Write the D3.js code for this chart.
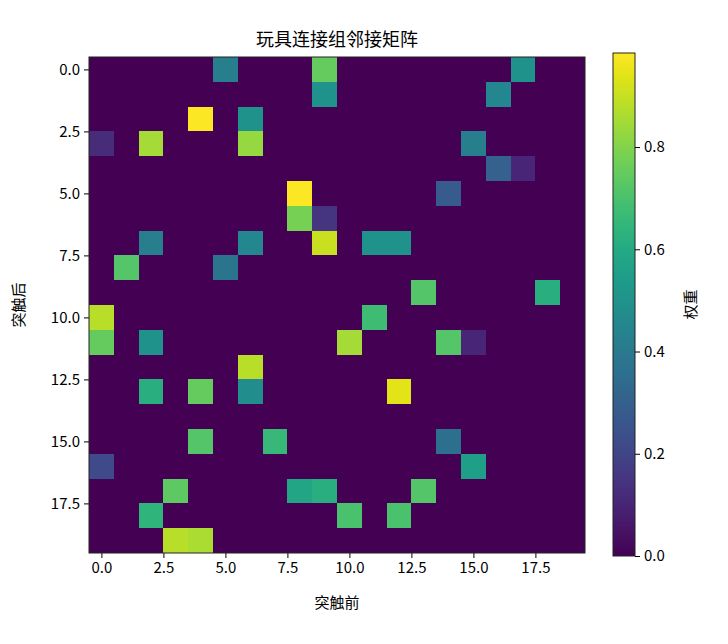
<!DOCTYPE html>
<html>
<head>
<meta charset="utf-8">
<script src="https://cdn.jsdelivr.net/npm/d3@7"></script>
<style>
  body { margin: 0; background: #fff; }
  text { font-family: "Noto Sans CJK SC", "DejaVu Sans", sans-serif; }
</style>
</head>
<body>
<svg id="chart" width="728" height="644"></svg>
<script>
// nonzero cells: [row, col, weight]
const cells = [
  [0,5,0.42],[0,9,0.75],[0,17,0.5],
  [1,9,0.5],[1,16,0.45],
  [2,4,0.98],[2,6,0.5],
  [3,0,0.12],[3,2,0.85],[3,6,0.83],[3,15,0.42],
  [4,16,0.3],[4,17,0.1],
  [5,8,0.98],[5,14,0.28],
  [6,8,0.78],[6,9,0.15],
  [7,2,0.42],[7,6,0.45],[7,9,0.9],[7,11,0.5],[7,12,0.5],
  [8,1,0.72],[8,5,0.38],
  [9,13,0.72],[9,18,0.62],
  [10,0,0.88],[10,11,0.68],
  [11,0,0.75],[11,2,0.5],[11,10,0.85],[11,14,0.72],[11,15,0.1],
  [12,6,0.88],
  [13,2,0.62],[13,4,0.75],[13,6,0.48],[13,12,0.94],
  [15,4,0.72],[15,7,0.66],[15,14,0.36],
  [16,0,0.22],[16,15,0.55],
  [17,3,0.74],[17,8,0.58],[17,9,0.62],[17,13,0.72],
  [18,2,0.64],[18,10,0.7],[18,12,0.7],
  [19,3,0.88],[19,4,0.86]
];
const n = 20;
const axisTicks = [0, 2.5, 5, 7.5, 10, 12.5, 15, 17.5];
const barTicks = [0, 0.2, 0.4, 0.6, 0.8];
const vmax = 0.984;

const matrix = [];
for (let r = 0; r < n; r++) for (let c = 0; c < n; c++) matrix.push({r, c, v: 0});
cells.forEach(([r, c, v]) => { matrix[r * n + c].v = v; });

const svg = d3.select("#chart");
const L = 89, T = 57, S = 496;
const x = d3.scaleLinear().domain([-0.5, n - 0.5]).range([L, L + S]);
const y = d3.scaleLinear().domain([-0.5, n - 0.5]).range([T, T + S]);
const color = d3.scaleSequential(d3.interpolateViridis).domain([0, vmax]);

svg.append("rect").attr("x", L).attr("y", T).attr("width", S).attr("height", S)
  .attr("fill", color(0));
svg.append("g").attr("shape-rendering", "crispEdges")
  .selectAll("rect").data(matrix.filter(d => d.v > 0)).enter().append("rect")
  .attr("x", d => x(d.c - 0.5)).attr("y", d => y(d.r - 0.5))
  .attr("width", x(1) - x(0)).attr("height", y(1) - y(0))
  .attr("fill", d => color(d.v));

const fmt = d3.format(".1f");
svg.append("g").attr("transform", `translate(0,${T + S})`)
  .call(d3.axisBottom(x).tickValues(axisTicks).tickFormat(fmt).tickSize(5).tickPadding(4))
  .call(g => g.selectAll("text").attr("font-size", 15).attr("fill", "#000"));
svg.append("g").attr("transform", `translate(${L},0)`)
  .call(d3.axisLeft(y).tickValues(axisTicks).tickFormat(fmt).tickSize(5).tickPadding(4))
  .call(g => g.selectAll("text").attr("font-size", 15).attr("fill", "#000"));
svg.selectAll(".domain").remove();
svg.append("rect").attr("x", L).attr("y", T).attr("width", S).attr("height", S)
  .attr("fill", "none").attr("stroke", "#222").attr("stroke-width", 1);

svg.append("text").attr("x", L + S / 2).attr("y", 46).attr("text-anchor", "middle")
  .attr("font-size", 18).text("玩具连接组邻接矩阵");
svg.append("text").attr("x", L + S / 2).attr("y", 608).attr("text-anchor", "middle")
  .attr("font-size", 15).text("突触前");
svg.append("text").attr("transform", `translate(24,${T + S / 2}) rotate(-90)`)
  .attr("text-anchor", "middle").attr("font-size", 15).text("突触后");

// colorbar
const cbX = 613, cbW = 22, cbT = 53, cbB = 556;
const cy = d3.scaleLinear().domain([0, vmax]).range([cbB, cbT]);
const grad = svg.append("defs").append("linearGradient").attr("id", "vir")
  .attr("x1", 0).attr("y1", 1).attr("x2", 0).attr("y2", 0);
d3.range(0, 1.001, 0.05).forEach(t => grad.append("stop")
  .attr("offset", t).attr("stop-color", d3.interpolateViridis(t)));
svg.append("rect").attr("x", cbX).attr("y", cbT).attr("width", cbW).attr("height", cbB - cbT)
  .attr("fill", "url(#vir)").attr("stroke", "#222");
svg.append("g").attr("transform", `translate(${cbX + cbW},0)`)
  .call(d3.axisRight(cy).tickValues(barTicks).tickFormat(fmt).tickSize(5).tickPadding(4))
  .call(g => g.select(".domain").remove())
  .call(g => g.selectAll("text").attr("font-size", 15).attr("fill", "#000"));
svg.append("text").attr("transform", `translate(696,${(cbT + cbB) / 2}) rotate(-90)`)
  .attr("text-anchor", "middle").attr("font-size", 15).text("权重");
</script>
</body>
</html>
